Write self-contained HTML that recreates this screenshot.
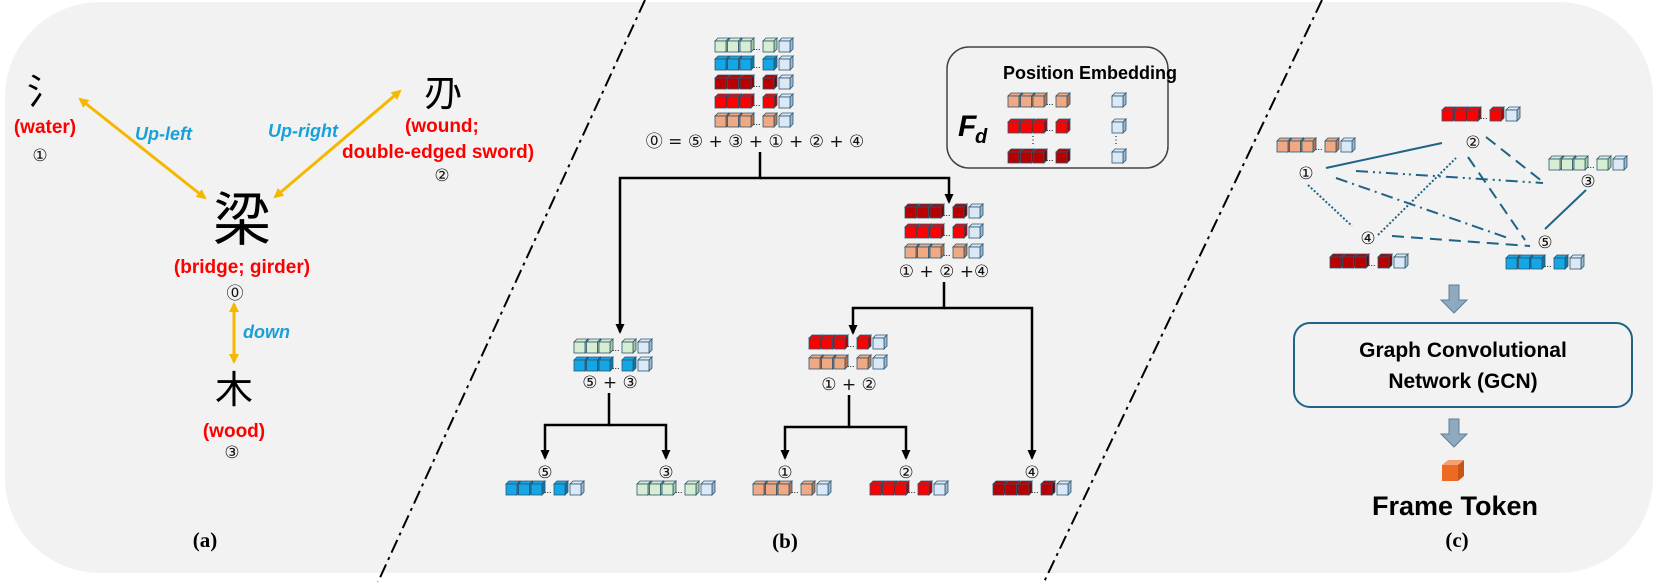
<!DOCTYPE html>
<html><head><meta charset="utf-8"><style>
html,body{margin:0;padding:0;background:#fff;width:1660px;height:582px;overflow:hidden}
svg{display:block}
text{font-family:"Liberation Sans","Noto Sans CJK SC",sans-serif}
.r{fill:#f00;font-weight:bold;font-size:19px}
.b{fill:#1a9fd8;font-weight:bold;font-style:italic;font-size:18px}
.n{font-family:"DejaVu Sans",sans-serif;font-size:17px;fill:#111}
.lab{font-family:"Liberation Serif",serif;font-weight:bold;font-size:21px}
</style></head><body>
<svg id="s" width="1660" height="582" viewBox="0 0 1660 582" xmlns="http://www.w3.org/2000/svg">
<defs>
<marker id="oa" markerWidth="10" markerHeight="10" refX="8" refY="5" orient="auto-start-reverse" markerUnits="userSpaceOnUse"><path d="M0,0 L10,5 L0,10 z" fill="#f5b800"/></marker>
<marker id="ka" markerWidth="10" markerHeight="10" refX="8" refY="5" orient="auto" markerUnits="userSpaceOnUse"><path d="M0,0.5 L10,5 L0,9.5 z" fill="#000"/></marker>
</defs>
<rect x="5" y="2" width="1648" height="571" rx="95" fill="#f2f2f2"/>
<line x1="645" y1="0" x2="378" y2="582" stroke="#000" stroke-width="2" stroke-dasharray="14,5,3,5"/>
<line x1="1322" y1="0" x2="1044" y2="582" stroke="#000" stroke-width="2" stroke-dasharray="14,5,3,5"/>

<!-- panel a -->
<text x="27" y="104" font-size="36" font-family="Noto Sans CJK SC,sans-serif">氵</text>
<text x="45" y="133" class="r" text-anchor="middle">(water)</text>
<text x="40" y="161" class="n" text-anchor="middle">①</text>
<text x="443" y="106" font-size="38" font-family="Noto Sans CJK SC,sans-serif" text-anchor="middle">刅</text>
<text x="405" y="132" class="r">(wound;</text>
<text x="342" y="158" class="r">double-edged sword)</text>
<text x="442" y="181" class="n" text-anchor="middle">②</text>
<text x="242" y="240" font-size="58" font-family="Noto Sans CJK SC,sans-serif" text-anchor="middle">梁</text>
<text x="242" y="273" class="r" text-anchor="middle">(bridge; girder)</text>
<text x="235" y="299" class="n" text-anchor="middle">⓪</text>
<text x="234" y="403" font-size="38" font-family="Noto Sans CJK SC,sans-serif" text-anchor="middle">木</text>
<text x="234" y="437" class="r" text-anchor="middle">(wood)</text>
<text x="232" y="458" class="n" text-anchor="middle">③</text>
<line x1="80" y1="99" x2="205" y2="198" stroke="#f5b800" stroke-width="3" marker-start="url(#oa)" marker-end="url(#oa)"/>
<line x1="400" y1="91" x2="275" y2="197" stroke="#f5b800" stroke-width="3" marker-start="url(#oa)" marker-end="url(#oa)"/>
<line x1="234" y1="304" x2="234" y2="362" stroke="#f5b800" stroke-width="3" marker-start="url(#oa)" marker-end="url(#oa)"/>
<text x="135" y="140" class="b">Up-left</text>
<text x="268" y="137" class="b">Up-right</text>
<text x="243" y="338" class="b">down</text>
<text x="205" y="547" class="lab" text-anchor="middle">(a)</text>

<!-- panel b tree -->
<g stroke="#000" stroke-width="2.5" fill="none">
<polyline points="760,152 760,178 620,178 620,332" marker-end="url(#ka)"/>
<polyline points="760,178 949,178 949,202" marker-end="url(#ka)"/>
<polyline points="944,282 944,308 853,308 853,333" marker-end="url(#ka)"/>
<polyline points="944,308 1032,308 1032,458" marker-end="url(#ka)"/>
<polyline points="609,393 609,425 545,425 545,458" marker-end="url(#ka)"/>
<polyline points="609,425 666,425 666,458" marker-end="url(#ka)"/>
<polyline points="849,395 849,427 785,427 785,458" marker-end="url(#ka)"/>
<polyline points="849,427 906,427 906,458" marker-end="url(#ka)"/>
</g>
<text x="755" y="147" class="n" text-anchor="middle">⓪ = ⑤ + ③ + ① + ② + ④</text>
<text x="944" y="277" class="n" text-anchor="middle">① + ② +④</text>
<text x="610" y="388" class="n" text-anchor="middle">⑤ + ③</text>
<text x="849" y="390" class="n" text-anchor="middle">① + ②</text>
<text x="545" y="478" class="n" text-anchor="middle">⑤</text>
<text x="666" y="478" class="n" text-anchor="middle">③</text>
<text x="785" y="478" class="n" text-anchor="middle">①</text>
<text x="906" y="478" class="n" text-anchor="middle">②</text>
<text x="1032" y="478" class="n" text-anchor="middle">④</text>
<text x="785" y="548" class="lab" text-anchor="middle">(b)</text>

<rect x="947" y="47" width="221" height="121" rx="22" fill="none" stroke="#444" stroke-width="1.5"/>
<text x="1003" y="79" font-weight="bold" font-size="18">Position Embedding</text>
<text x="958" y="136" font-family="Liberation Serif,serif" font-weight="bold" font-style="italic" font-size="30">F</text>
<text x="975" y="143" font-family="Liberation Serif,serif" font-weight="bold" font-style="italic" font-size="20">d</text>
<text x="1033" y="143" font-size="10" text-anchor="middle">⋮</text>
<text x="1116" y="143" font-size="10" text-anchor="middle">⋮</text>

<!-- panel c -->
<g stroke="#1f6485" stroke-width="2" fill="none">
<line x1="1326" y1="168" x2="1442" y2="143" />
<line x1="1486" y1="137" x2="1543" y2="182" stroke-dasharray="12,7"/>
<line x1="1356" y1="171" x2="1543" y2="183" stroke-dasharray="12,5,2,4,2,5"/>
<line x1="1336" y1="178" x2="1508" y2="238" stroke-dasharray="12,5,2,5"/>
<line x1="1468" y1="157" x2="1525" y2="240" stroke-dasharray="12,7"/>
<line x1="1378" y1="235" x2="1456" y2="158" stroke-dasharray="2,2"/>
<line x1="1308" y1="185" x2="1352" y2="226" stroke-dasharray="2,2"/>
<line x1="1392" y1="236" x2="1530" y2="246" stroke-dasharray="12,7"/>
<line x1="1586" y1="190" x2="1545" y2="229"/>
</g>
<text x="1473" y="148" class="n" text-anchor="middle">②</text>
<text x="1306" y="179" class="n" text-anchor="middle">①</text>
<text x="1588" y="187" class="n" text-anchor="middle">③</text>
<text x="1368" y="244" class="n" text-anchor="middle">④</text>
<text x="1545" y="248" class="n" text-anchor="middle">⑤</text>
<g fill="#8fa9be" stroke="#5e7f98" stroke-width="1">
<path d="M1449,285 h10 v15 h8 l-13,13 l-13,-13 h8 z"/>
<path d="M1449,419 h10 v15 h8 l-13,13 l-13,-13 h8 z"/>
</g>
<rect x="1294" y="323" width="338" height="84" rx="16" fill="none" stroke="#1f6485" stroke-width="2"/>
<text x="1463" y="357" text-anchor="middle" font-weight="bold" font-size="21">Graph Convolutional</text>
<text x="1463" y="388" text-anchor="middle" font-weight="bold" font-size="21">Network (GCN)</text>
<g>
<path d="M1442,465 h16 l6,-5 h-16 z" fill="#f4a070"/>
<path d="M1458,465 l6,-5 v16 l-6,5 z" fill="#c9541a"/>
<rect x="1442" y="465" width="16" height="16" fill="#ee6a22"/>
</g>
<text x="1455" y="515" text-anchor="middle" font-weight="bold" font-size="27">Frame Token</text>
<text x="1457" y="547" class="lab" text-anchor="middle">(c)</text>
<g id="cubes"></g>
</svg>
<script>
var C={g:["#d8eed3","#a7c9a0"],b:["#15a6e6","#0b78a8"],d:["#b80000","#7a0000"],r:["#ff0000","#b00000"],p:["#f0a982","#b8764f"],l:["#dbe9f7","#9ab8d0"],o:["#ee6a22","#c9541a"]};
var g=document.getElementById("cubes"),ns="http://www.w3.org/2000/svg";
function el(t,a){var e=document.createElementNS(ns,t);for(var k in a)e.setAttribute(k,a[k]);g.appendChild(e);return e}
function cube(x,y,c){var f=C[c][0],s=C[c][1],w=11,h=11,d=3;
el("path",{d:"M"+x+","+y+" l"+d+",-"+d+" h"+w+" l-"+d+","+d+"z",fill:f,stroke:"#2c5670","stroke-width":0.8});
el("path",{d:"M"+(x+w)+","+y+" l"+d+",-"+d+" v"+h+" l-"+d+","+d+"z",fill:s,stroke:"#2c5670","stroke-width":0.8});
el("rect",{x:x,y:y,width:w,height:h,fill:f,stroke:"#2c5670","stroke-width":0.8});}
function row(x,y,c,noL){for(var i=0;i<3;i++)cube(x+i*12.5,y,c);
el("text",{x:x+38,y:y+9,"font-size":9,"font-family":"Liberation Sans,sans-serif"}).textContent="...";
cube(x+48,y,c);if(!noL)cube(x+64,y,"l");}
[["g",41],["b",59],["d",78],["r",97],["p",116]].forEach(function(a){row(715,a[1],a[0])});
[["d",207],["r",227],["p",247]].forEach(function(a){row(905,a[1],a[0])});
row(574,342,"g");row(574,360,"b");
row(809,338,"r");row(809,358,"p");
row(506,484,"b");row(637,484,"g");row(753,484,"p");row(870,484,"r");row(993,484,"d");
row(1008,96,"p",1);row(1008,122,"r",1);row(1008,152,"d",1);
cube(1112,96,"l");cube(1112,122,"l");cube(1112,152,"l");
row(1442,110,"r");row(1277,141,"p");row(1549,159,"g");row(1330,257,"d");row(1506,258,"b");
</script>
</body></html>
